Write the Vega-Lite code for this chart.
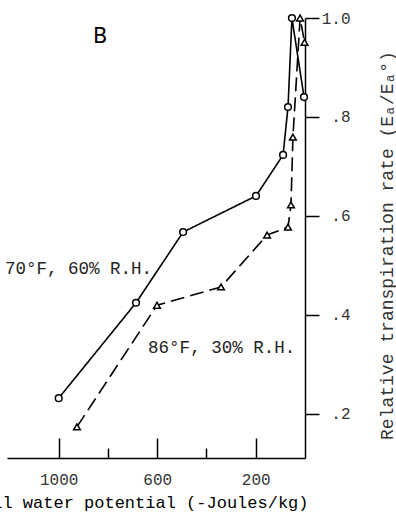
{
  "$schema": "https://vega.github.io/schema/vega-lite/v6.json",
  "width": 298,
  "height": 440,
  "autosize": {"type": "none"},
  "padding": {"left": 7, "top": 18, "right": 91, "bottom": 60},
  "background": "white",
  "config": {"view": {"stroke": null}, "font": "Liberation Mono"},
  "datasets": {
    "curves": [
      {"series": "70F", "seq": 1, "potential": 1000, "rate": 0.231},
      {"series": "70F", "seq": 2, "potential": 686, "rate": 0.424},
      {"series": "70F", "seq": 3, "potential": 495, "rate": 0.567},
      {"series": "70F", "seq": 4, "potential": 199, "rate": 0.640},
      {"series": "70F", "seq": 5, "potential": 89, "rate": 0.723},
      {"series": "70F", "seq": 6, "potential": 69, "rate": 0.820},
      {"series": "70F", "seq": 7, "potential": 53, "rate": 1.0},
      {"series": "70F", "seq": 8, "potential": 4, "rate": 0.840},
      {"series": "86F", "seq": 1, "potential": 926, "rate": 0.173},
      {"series": "86F", "seq": 2, "potential": 601, "rate": 0.419},
      {"series": "86F", "seq": 3, "potential": 341, "rate": 0.456},
      {"series": "86F", "seq": 4, "potential": 154, "rate": 0.561},
      {"series": "86F", "seq": 5, "potential": 69, "rate": 0.577},
      {"series": "86F", "seq": 6, "potential": 57, "rate": 0.622},
      {"series": "86F", "seq": 7, "potential": 49, "rate": 0.759},
      {"series": "86F", "seq": 8, "potential": 20, "rate": 1.0},
      {"series": "86F", "seq": 9, "potential": 2, "rate": 0.951}
    ],
    "notes": [
      {"potential": 1218, "rate": 0.482, "text": "70°F, 60% R.H."},
      {"potential": 637, "rate": 0.322, "text": "86°F, 30% R.H."}
    ],
    "panel": [
      {"potential": 832, "rate": 0.949, "text": "B"}
    ]
  },
  "layer": [
    {
      "data": {"name": "curves"},
      "mark": {"type": "line", "color": "black", "strokeWidth": 1.6},
      "encoding": {
        "x": {
          "field": "potential", "type": "quantitative",
          "scale": {"domain": [1210, 0], "nice": false, "zero": false},
          "axis": {
            "orient": "bottom",
            "values": [1000, 800, 600, 400, 200],
            "labelExpr": "datum.value == 800 || datum.value == 400 ? '' : format(datum.value, 'd')",
            "tickSize": {"condition": {"test": "datum.value == 800 || datum.value == 400", "value": -10}, "value": -20},
            "tickColor": "black", "tickWidth": 1.5,
            "domainColor": "black", "domainWidth": 1.5,
            "grid": false,
            "labelFont": "Liberation Mono", "labelFontSize": 16, "labelColor": "#333",
            "labelBaseline": "alphabetic", "labelPadding": 46,
            "title": "Soil water potential (-Joules/kg)",
            "titleFont": "Liberation Mono", "titleFontSize": 17, "titleFontWeight": "normal", "titleColor": "black",
            "titleAlign": "right", "titleBaseline": "alphabetic", "titleX": 301, "titleY": 49
          }
        },
        "y": {
          "field": "rate", "type": "quantitative",
          "scale": {"domain": [0.11, 1.0], "nice": false, "zero": false},
          "axis": {
            "orient": "right",
            "values": [0.2, 0.4, 0.6, 0.8, 1.0],
            "labelExpr": "datum.value >= 1 ? '1.0' : substring(format(datum.value, '.1f'), 1)",
            "tickSize": 14, "tickColor": "black", "tickWidth": 1.5,
            "domainColor": "black", "domainWidth": 1.5,
            "grid": false,
            "labelFont": "Liberation Mono", "labelFontSize": 16, "labelColor": "#333",
            "labelAlign": "right", "labelBaseline": "middle", "labelPadding": 31,
            "title": "Relative transpiration rate (Eₐ/Eₐ°)",
            "titleFont": "Liberation Mono", "titleFontSize": 18, "titleFontWeight": "normal", "titleColor": "#333",
            "titleAngle": 270, "titleAlign": "center", "titleBaseline": "alphabetic", "titleX": 87, "titleY": 227
          }
        },
        "order": {"field": "seq", "type": "quantitative"},
        "detail": {"field": "series", "type": "nominal"},
        "strokeDash": {
          "field": "series", "type": "nominal",
          "scale": {"domain": ["70F", "86F"], "range": [[1, 0], [14, 6]]},
          "legend": null
        }
      }
    },
    {
      "data": {"name": "curves"},
      "mark": {"type": "point", "filled": true, "fill": "white", "stroke": "black", "strokeWidth": 1.5, "size": 45, "opacity": 1},
      "encoding": {
        "x": {"field": "potential", "type": "quantitative"},
        "y": {"field": "rate", "type": "quantitative"},
        "shape": {
          "field": "series", "type": "nominal",
          "scale": {"domain": ["70F", "86F"], "range": ["circle", "triangle-up"]},
          "legend": null
        }
      }
    },
    {
      "data": {"name": "notes"},
      "mark": {"type": "text", "font": "Liberation Mono", "fontSize": 17.5, "align": "left", "baseline": "alphabetic", "color": "#222"},
      "encoding": {
        "x": {"field": "potential", "type": "quantitative"},
        "y": {"field": "rate", "type": "quantitative"},
        "text": {"field": "text", "type": "nominal"}
      }
    },
    {
      "data": {"name": "panel"},
      "mark": {"type": "text", "font": "DejaVu Sans", "fontSize": 21, "align": "center", "baseline": "alphabetic", "color": "black"},
      "encoding": {
        "x": {"field": "potential", "type": "quantitative"},
        "y": {"field": "rate", "type": "quantitative"},
        "text": {"field": "text", "type": "nominal"}
      }
    }
  ]
}
